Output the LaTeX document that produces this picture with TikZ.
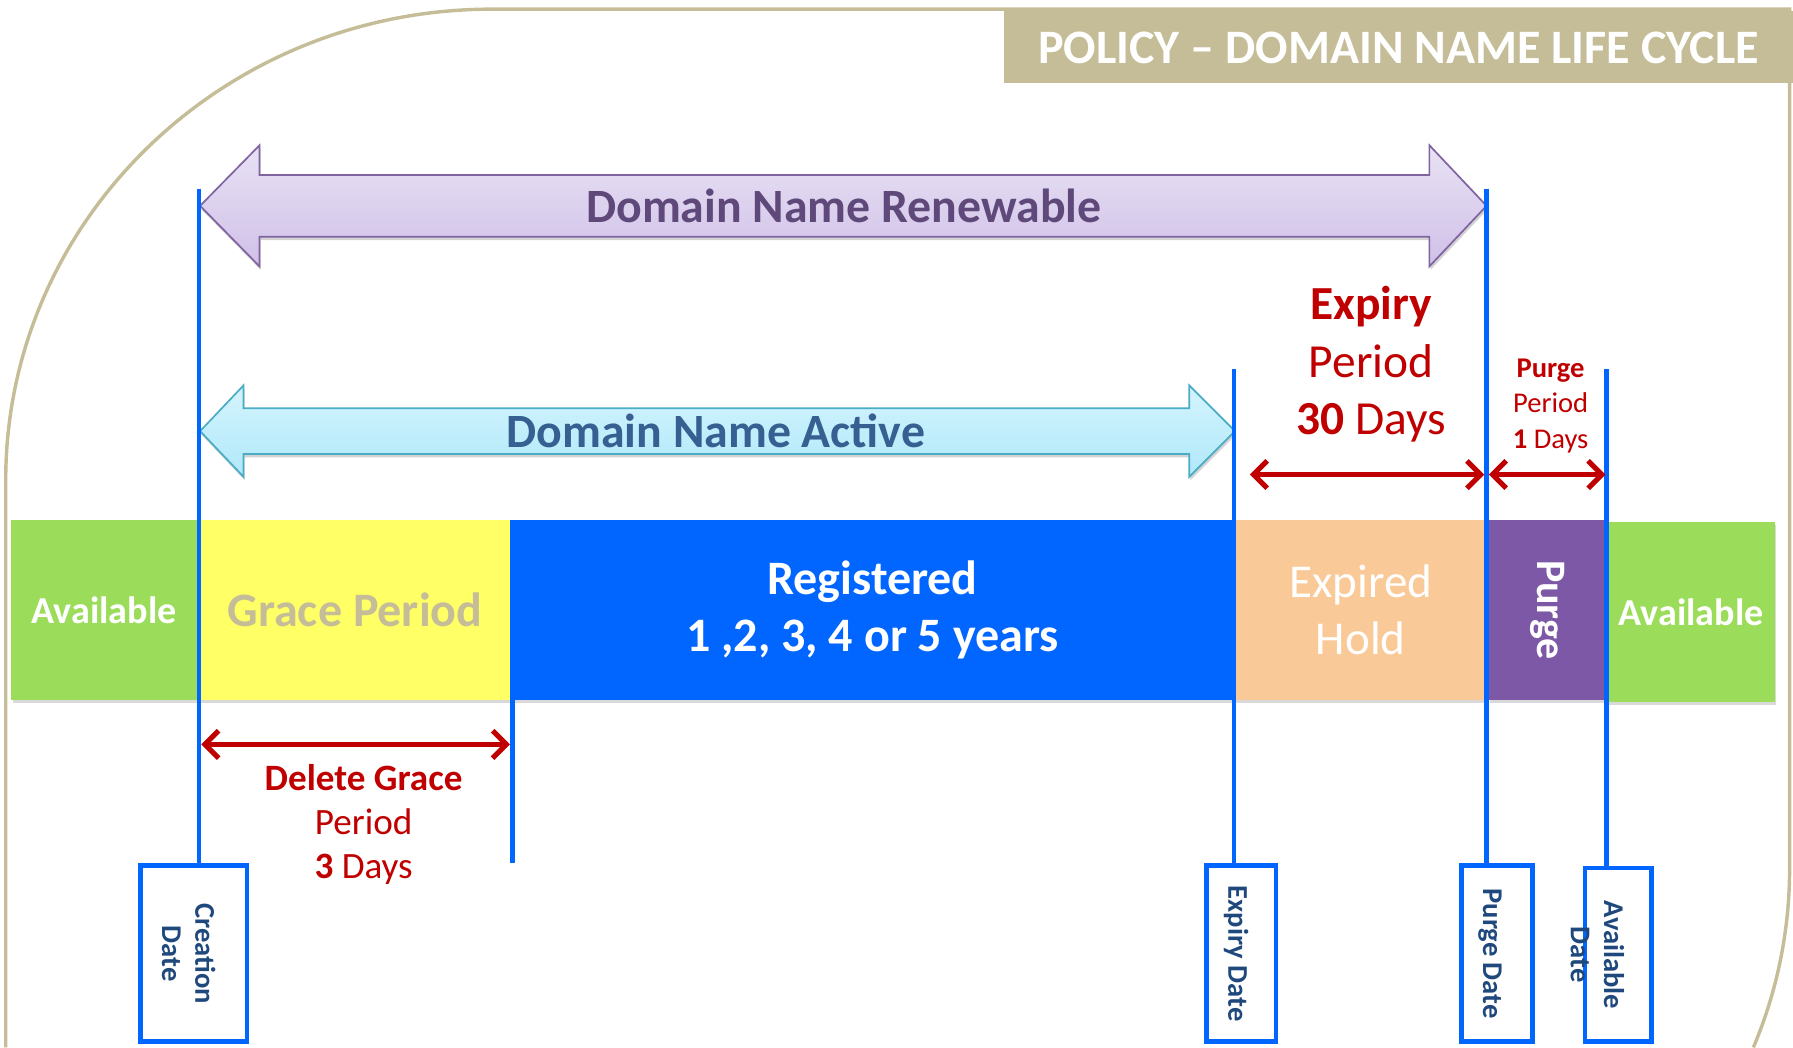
\documentclass[tikz,border=0pt]{standalone}
\usepackage{fontspec}
\usepackage{graphicx}
\setmainfont{Carlito}
\usetikzlibrary{arrows.meta,shadows}

\definecolor{beige}{RGB}{196,189,151}
\definecolor{availgreen}{RGB}{155,221,90}
\definecolor{graceyellow}{RGB}{255,255,102}
\definecolor{regblue}{RGB}{0,102,255}
\definecolor{holdpeach}{RGB}{250,201,152}
\definecolor{purgeviolet}{RGB}{124,88,166}
\definecolor{lineblue}{RGB}{0,102,255}
\definecolor{darkred}{RGB}{192,0,0}
\definecolor{renewtext}{RGB}{95,73,122}
\definecolor{activetext}{RGB}{54,96,146}
\definecolor{datetext}{RGB}{31,73,125}

\begin{document}
\begin{tikzpicture}[x=1pt,y=-1pt,
  bar/.style={rectangle,inner sep=0pt,minimum height=157pt,text=white,align=center,
    drop shadow={opacity=0.3,shadow xshift=1pt,shadow yshift=-3pt}},
  timeline/.style={draw=lineblue,line width=4pt},
  datebox/.style={draw=lineblue,line width=4pt,fill=white,minimum height=154pt,inner sep=0pt},
  datelabel/.style={rotate=-90,text=datetext,align=center,inner sep=0pt,
    font=\bfseries\fontsize{25}{29}\selectfont},
  dayspan/.style={draw=darkred,line width=4.5pt,line cap=round,
    {Straight Barb[length=12pt,width=24pt]}-{Straight Barb[length=12pt,width=24pt]}},
  spantext/.style={text=darkred,align=center,inner sep=0pt},
  renew/.style={draw={rgb,255:red,128;green,100;blue,162},line width=1.5pt,
    top color={rgb,255:red,232;green,226;blue,244},bottom color={rgb,255:red,208;green,192;blue,232},
    drop shadow={opacity=0.35,shadow xshift=1pt,shadow yshift=-3pt}},
  active/.style={draw={rgb,255:red,75;green,172;blue,198},line width=1.5pt,
    top color={rgb,255:red,212;green,244;blue,253},bottom color={rgb,255:red,176;green,232;blue,250},
    drop shadow={opacity=0.35,shadow xshift=1pt,shadow yshift=-3pt}}]
  \useasboundingbox (0,0) rectangle (1568,916);

  % frame and title
  \draw[beige,line width=3pt] (5,916) -- (5,420)
    arc[start angle=180,end angle=270,x radius=425,y radius=412] -- (1565,8) -- (1565,760)
    arc[start angle=0,end angle=22.25,x radius=425,y radius=412];
  \node[fill=beige,minimum width=690pt,minimum height=63pt,inner sep=0pt,text=white,
    font=\bfseries\fontsize{42}{50}\selectfont] (title) at (1223,41.5) {POLICY – DOMAIN NAME LIFE CYCLE};

  % the bar
  \node[bar,fill=availgreen,minimum width=162pt,font=\bfseries\fontsize{33.3}{38}\selectfont] (avail) at (91,533.5) {Available};
  \node[bar,fill=graceyellow,minimum width=273pt,text=beige,font=\bfseries\fontsize{42}{50}\selectfont] (grace) at (310.5,533.5) {Grace Period};
  \node[bar,fill=regblue,minimum width=630pt,font=\bfseries\fontsize{42}{50}\selectfont] (registered) at (763,533.5) {\raisebox{-3pt}{Registered}\\\raisebox{-3pt}{1 ,2, 3, 4 or 5 years}};
  \node[bar,fill=holdpeach,minimum width=220pt,font=\fontsize{41.2}{50}\selectfont] (hold) at (1190,533.5) {Expired\\Hold};
  \node[bar,fill=purgeviolet,minimum width=102pt,font=\bfseries\fontsize{36.7}{44}\selectfont] (purge) at (1353,533.5) {\rotatebox{-90}{Purge}};
  \node[bar,fill=availgreen,minimum width=146pt,font=\bfseries\fontsize{33.3}{38}\selectfont] (availagain) at (1479,535) {\raisebox{-2pt}{Available}};

  % fat arrows
  \draw[renew] (175,180) -- (227,127) -- (227,153) -- (1250,153) -- (1250,127) -- (1300,180)
    -- (1250,233) -- (1250,207) -- (227,207) -- (227,233) -- cycle;
  \node[text=renewtext,font=\bfseries\fontsize{41.8}{48}\selectfont] (renewable) at (738,180) {Domain Name Renewable};
  \draw[active] (175,377) -- (213,337) -- (213,357) -- (1040,357) -- (1040,337) -- (1080,377)
    -- (1040,417) -- (1040,397) -- (213,397) -- (213,417) -- cycle;
  \node[text=activetext,font=\bfseries\fontsize{41.8}{48}\selectfont] (activ) at (626,377) {Domain Name Active};

  % dates
  \coordinate (creTop) at (174,165);
  \coordinate (graceTop) at (448,455);
  \coordinate (graceEnd) at (448,755);
  \coordinate (expTop) at (1079,323);
  \coordinate (purTop) at (1300,165);
  \coordinate (avaTop) at (1405,323);
  \coordinate (upperY) at (0,415);
  \coordinate (lowerY) at (0,651);

  \node[datebox,minimum width=93pt] (creBox) at (169.5,834) {};
  \node[datebox,minimum width=61pt] (expBox) at (1085.5,834) {};
  \node[datebox,minimum width=62pt] (purBox) at (1309,834) {};
  \node[datebox,minimum width=58pt,minimum height=152pt] (avaBox) at (1415,835) {};
  \draw[timeline] (creTop) -- (creTop |- creBox.north);
  \draw[timeline] (graceTop) -- (graceEnd);
  \draw[timeline] (expTop) -- (expTop |- expBox.north);
  \draw[timeline] (purTop) -- (purTop |- purBox.north);
  \draw[timeline] (avaTop) -- (avaTop |- avaBox.north);
  \node[datelabel] (creText) at (165,834) {Creation\\Date};
  \node[datelabel] (expText) at (1081,834) {Expiry Date};
  \node[datelabel] (purText) at (1303,834) {Purge Date};
  \node[datelabel] (avaText) at (1397,835) {Available\\Date};

  % periods
  \draw[dayspan,shorten <=14pt,shorten >=2pt] (expTop |- upperY) -- (purTop |- upperY);
  \draw[dayspan,shorten <=2pt,shorten >=1pt] (purTop |- upperY) -- (avaTop |- upperY);
  \draw[dayspan,shorten <=2pt,shorten >=2pt] (creTop |- lowerY) -- (graceTop |- lowerY);
  \node[spantext,font=\fontsize{41.5}{50}\selectfont] (expPeriod) at (1199,318.5) {\textbf{Expiry}\\Period\\\textbf{30} Days};
  \node[spantext,font=\fontsize{25}{31}\selectfont] (purPeriod) at (1356,355) {\textbf{Purge}\\Period\\\textbf{1} Days};
  \node[spantext,font=\fontsize{32.5}{38.5}\selectfont] (delPeriod) at (318,721) {\textbf{Delete Grace}\\Period\\\textbf{3} Days};
\end{tikzpicture}
\end{document}
